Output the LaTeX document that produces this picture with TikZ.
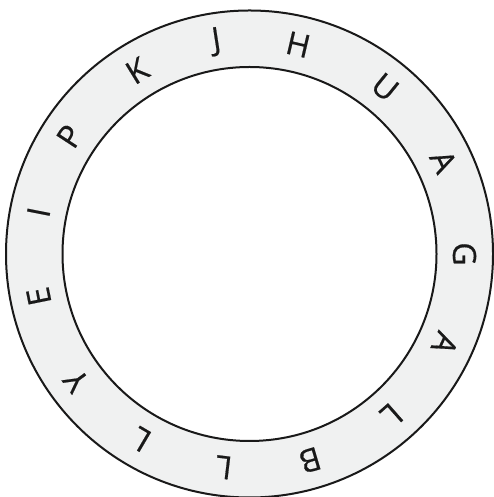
\documentclass[tikz,border=0pt]{standalone}
\usepackage{fontspec}
\setmainfont{Open Sans}
\newfontfamily\ringfont{Open Sans}[FakeBold=0.5]
\definecolor{ringgray}{RGB}{240,241,241}
\begin{document}
\begin{tikzpicture}[x=1pt,y=1pt,
  letter/.style={font=\ringfont\fontsize{32}{32}\selectfont, inner sep=0pt, text=black!90},
  ringline/.style={line width=2pt, draw=black!90}]
\useasboundingbox (0,0) rectangle (494,497);
\coordinate (c) at (249.5,243);
\fill[ringgray, even odd rule] (c) circle[radius=243.5] (c) circle[radius=187];
\draw[ringline] (c) circle[radius=243.5];
\draw[ringline] (c) circle[radius=187];
\foreach \t/\l [count=\i] in {90/G,114.6/A,138.6/L,163.6/B,186.9/L,210.4/L,233.8/Y,258.6/E,281.2/I,303.2/P,328.5/K,351.2/J,13.1/H,39.1/U,64.5/A}
  \node[letter, rotate=-\t] (l\i) at ([shift={(90-\t:215)}]c) {\l};
\end{tikzpicture}
\end{document}
